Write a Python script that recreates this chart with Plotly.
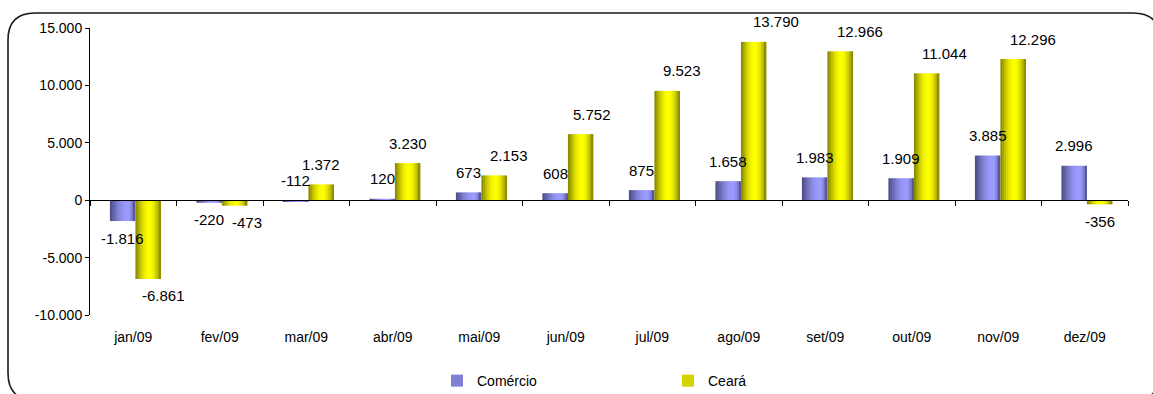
import math
import plotly.graph_objects as go

# ---------------- data ----------------
months = ["jan/09", "fev/09", "mar/09", "abr/09", "mai/09", "jun/09",
          "jul/09", "ago/09", "set/09", "out/09", "nov/09", "dez/09"]
comercio = [-1816, -220, -112, 120, 673, 608, 875, 1658, 1983, 1909, 3885, 2996]
ceara = [-6861, -473, 1372, 3230, 2153, 5752, 9523, 13790, 12966, 11044, 12296, -356]
comercio_labels = ["-1.816", "-220", "-112", "120", "673", "608", "875",
                   "1.658", "1.983", "1.909", "3.885", "2.996"]
ceara_labels = ["-6.861", "-473", "1.372", "3.230", "2.153", "5.752", "9.523",
                "13.790", "12.966", "11.044", "12.296", "-356"]
y_tickvals = [15000, 10000, 5000, 0, -5000, -10000]
y_ticktext = ["15.000", "10.000", "5.000", "0", "-5.000", "-10.000"]

# ---------------- style ----------------
com_label_side = ["below", "below", "above", "above", "above", "above",
                  "above", "above", "above", "above", "above", "above"]
cea_label_dx = [15, 12, 0, 0, 15, 11, 15, 22, 20, 18, 20, 0]

FONT = "Liberation Sans, Arial, sans-serif"
W, H = 1153, 394
L, R, T, B = 90, 1128, 28, 315  # plot area in px

fig = go.Figure()

NSTRIP = 14


def shade_factor(t, peak):
    if t <= peak:
        f = math.sin((t / peak) * math.pi / 2)
    else:
        f = math.cos(((t - peak) / (1 - peak)) * math.pi / 2)
    return 0.15 + 0.85 * f


def mix(bright, dark, f):
    return "rgb(%d,%d,%d)" % tuple(round(d + (b - d) * f) for b, d in zip(bright, dark))


def add_series(name, values, offset, width, bright, dark, peak, legend_strip):
    sw = width / NSTRIP
    for k in range(NSTRIP):
        t = (k + 0.5) / NSTRIP
        fig.add_trace(go.Bar(
            x=months, y=values, name=name,
            offset=offset + k * sw, width=sw * 1.35 if k < NSTRIP - 1 else sw,
            marker=dict(color=mix(bright, dark, shade_factor(t, peak)), line=dict(width=0)),
            legendgroup=name, showlegend=(k == legend_strip), hoverinfo="skip"))


add_series("Comércio", comercio, -0.27, 0.295, (155, 155, 255), (58, 58, 105), 0.7, 4)
add_series("Ceará", ceara, 0.025, 0.295, (255, 255, 0), (105, 105, 0), 0.55, 3)

# ---------------- value labels ----------------
annotations = []
for i, (v, txt, side) in enumerate(zip(comercio, comercio_labels, com_label_side)):
    if side == "above":
        yv, ys = max(v, 0), 20
    else:
        yv, ys = min(v, 0), -17
    annotations.append(dict(x=i - 0.1225, y=yv, text=txt, showarrow=False,
                            xref="x", yref="y", yshift=ys, yanchor="middle",
                            font=dict(family=FONT, size=15, color="#000")))
for i, (v, txt, dx) in enumerate(zip(ceara, ceara_labels, cea_label_dx)):
    ys = 20 if v >= 0 else -17
    annotations.append(dict(x=i + 0.1725, y=v, text=txt, showarrow=False,
                            xref="x", yref="y", yshift=ys, xshift=dx, yanchor="middle",
                            font=dict(family=FONT, size=15, color="#000")))


# ---------------- rounded frame ----------------
def px2paper(px, py):
    return (px - L) / (R - L), (B - py) / (B - T)


x0, y0, x1, y1, r = 8, 13, 1160, 400, 27
pts = [
    ("M", [(x0, y0 + r)]),
    ("Q", [(x0, y0), (x0 + r, y0)]),
    ("L", [(x1 - r, y0)]),
    ("Q", [(x1, y0), (x1, y0 + r)]),
    ("L", [(x1, y1 - r)]),
    ("Q", [(x1, y1), (x1 - r, y1)]),
    ("L", [(x0 + r, y1)]),
    ("Q", [(x0, y1), (x0, y1 - r)]),
]
path = ""
for cmd, plist in pts:
    coords = " ".join("%.5f,%.5f" % px2paper(px, py) for px, py in plist)
    path += "%s %s " % (cmd, coords)
path += "Z"

shapes = [dict(type="path", path=path, xref="paper", yref="paper",
               line=dict(color="#1a1a1a", width=1.6), fillcolor="rgba(0,0,0,0)",
               layer="below")]

fig.update_layout(
    width=W, height=H,
    margin=dict(l=L, r=W - R, t=T, b=H - B, pad=0, autoexpand=False),
    paper_bgcolor="white", plot_bgcolor="white",
    barmode="overlay",
    font=dict(family=FONT, size=14, color="#000"),
    showlegend=True,
    legend=dict(orientation="h", x=(437 - L) / (R - L), xanchor="left",
                y=(B - 381) / (B - T), yanchor="middle",
                entrywidth=186, entrywidthmode="pixels",
                font=dict(family=FONT, size=14, color="#000"),
                bgcolor="rgba(0,0,0,0)", traceorder="normal"),
    annotations=annotations,
    shapes=shapes,
    xaxis=dict(type="category", categoryorder="array", categoryarray=months,
               range=[-0.5, 11.5], anchor="free", position=0.4, automargin=False,
               showline=True, linecolor="#000", linewidth=1,
               ticks="outside", tickson="boundaries", ticklen=5, tickcolor="#000",
               showgrid=False, zeroline=False, ticklabelstandoff=124,
               tickfont=dict(family=FONT, size=14, color="#000")),
    yaxis=dict(range=[-10000, 15000], tickmode="array", tickvals=y_tickvals,
               ticktext=y_ticktext, showline=True, linecolor="#000", linewidth=1,
               automargin=False,
               ticks="outside", ticklen=4, tickcolor="#000", showgrid=False,
               zeroline=False, tickfont=dict(family=FONT, size=14, color="#000")),
)

fig.write_html("out.html")
